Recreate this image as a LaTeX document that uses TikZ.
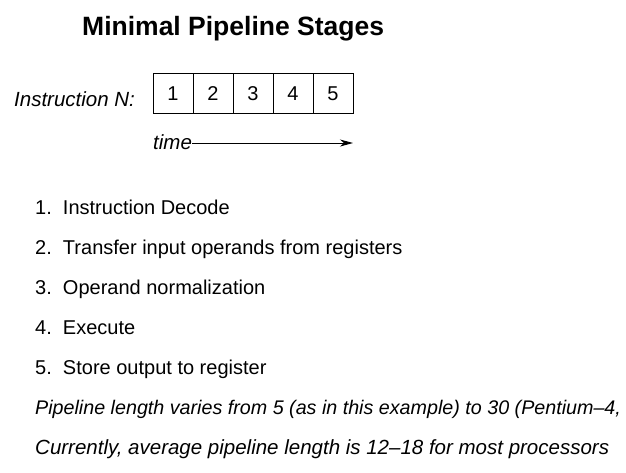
\documentclass[tikz,border=0pt]{standalone}
\usepackage{fontspec}
\setmainfont{Liberation Sans}
\usetikzlibrary{arrows.meta}
\begin{document}
\begin{tikzpicture}[x=1pt, y=-1pt,
  every node/.style={inner sep=0pt, font=\fontsize{20}{24}\selectfont},
  cell/.style={draw, line width=0.9pt, minimum width=40pt, minimum height=40pt},
  txt/.style={anchor=base west},
  note/.style={anchor=base west, font=\fontsize{20.5}{24}\selectfont\itshape}]
  \useasboundingbox (0,0) rectangle (626,472);
  % title
  \node[txt, font=\fontsize{26.5}{30}\selectfont\bfseries] (title) at (82,35) {Minimal Pipeline Stages};
  % stage boxes for one instruction
  \node[note] (instr) at (14,106) {Instruction N:};
  \node[cell] (s1) at (173,93.5) {1};
  \node[cell] (s2) at (213,93.5) {2};
  \node[cell] (s3) at (253,93.5) {3};
  \node[cell] (s4) at (293,93.5) {4};
  \node[cell] (s5) at (333,93.5) {5};
  \node[note] (time) at (153,149) {time};
  \coordinate (tend) at (353,143);
  \draw[-{Stealth[length=13pt, width=7pt, inset=4pt]}, line width=0.9pt] (time.east |- tend) -- (tend);
  % list of stages
  \node[txt] (l1) at (35,214) {1.\ \ Instruction Decode};
  \node[txt] (l2) at (35,254) {2.\ \ Transfer input operands from registers};
  \node[txt] (l3) at (35,294) {3.\ \ Operand normalization};
  \node[txt] (l4) at (35,334) {4.\ \ Execute};
  \node[txt] (l5) at (35,374) {5.\ \ Store output to register};
  % remarks
  \node[note, font=\fontsize{19.7}{24}\selectfont\itshape] (r1) at (35,414) {Pipeline length varies from 5 (as in this example) to 30 (Pentium--4,};
  \node[note] (r2) at (35,454) {Currently, average pipeline length is 12--18 for most processors};
\end{tikzpicture}
\end{document}
